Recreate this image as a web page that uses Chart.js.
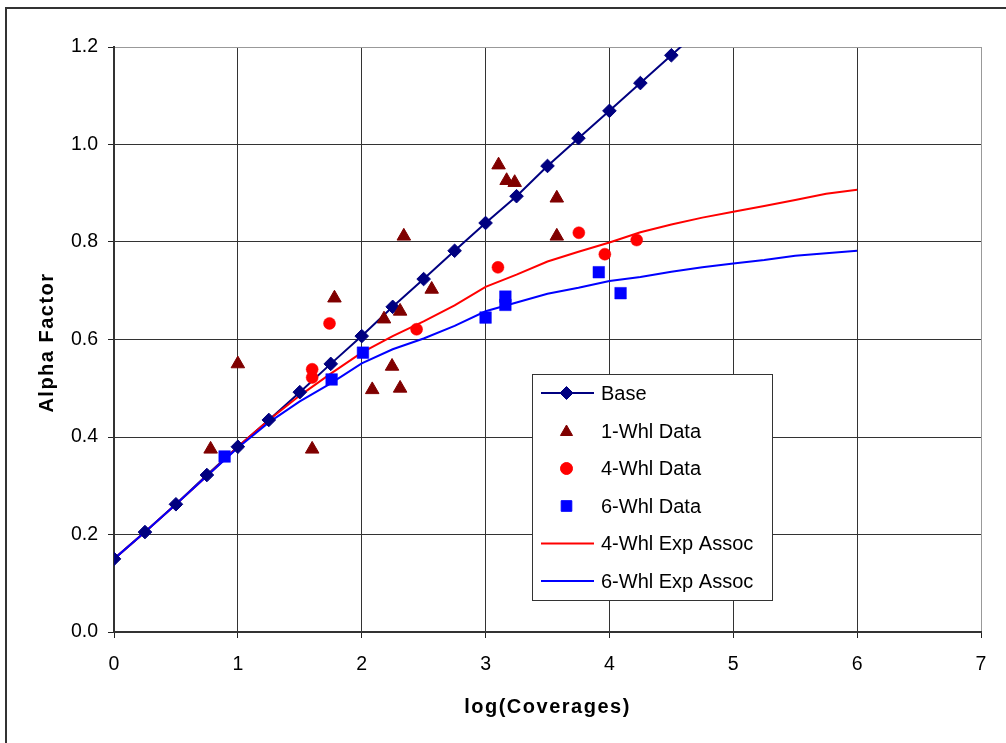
<!DOCTYPE html>
<html>
<head>
<meta charset="utf-8">
<title>Alpha Factor vs log(Coverages)</title>
<script src="https://cdn.jsdelivr.net/npm/chart.js@4/dist/chart.umd.min.js"></script>
<style>
  html, body { margin: 0; padding: 0; background: #fff; }
  #wrap { width: 1006px; height: 743px; }
</style>
</head>
<body>
<div id="wrap"><canvas id="c" width="1006" height="743"></canvas></div>
<script>
// Base relationship (diamonds, joined)
const baseX = [0, 0.25, 0.5, 0.75, 1, 1.25, 1.5, 1.75, 2, 2.25, 2.5, 2.75, 3, 3.25, 3.5, 3.75, 4, 4.25, 4.5, 4.75];
const baseY = [0.15, 0.205, 0.262, 0.322, 0.38, 0.435, 0.492, 0.55, 0.607, 0.667, 0.724, 0.782, 0.839, 0.894, 0.956, 1.013, 1.069, 1.126, 1.183, 1.24];

// Measured data points
const whl1X = [0.78, 1.0, 1.6, 1.78, 2.085, 2.18, 2.245, 2.31, 2.31, 2.34, 2.565, 3.105, 3.17, 3.235, 3.575, 3.575];
const whl1Y = [0.375, 0.55, 0.375, 0.685, 0.497, 0.642, 0.545, 0.658, 0.5, 0.812, 0.703, 0.958, 0.926, 0.922, 0.89, 0.812];

const whl4X = [1.6, 1.6, 1.74, 2.443, 3.1, 3.753, 3.963, 4.22];
const whl4Y = [0.539, 0.522, 0.633, 0.621, 0.748, 0.819, 0.775, 0.804];

const whl6X = [0.893, 1.757, 2.01, 3.0, 3.16, 3.16, 3.914, 4.09];
const whl6Y = [0.36, 0.518, 0.573, 0.645, 0.688, 0.671, 0.738, 0.695];

// Exponential association fits
const fitX = [0, 0.25, 0.5, 0.75, 1, 1.25, 1.5, 1.75, 2, 2.25, 2.5, 2.75, 3, 3.25, 3.5, 3.75, 4, 4.25, 4.5, 4.75, 5, 5.25, 5.5, 5.75, 6];
const fit4Y = [0.15, 0.205, 0.262, 0.32, 0.38, 0.435, 0.485, 0.53, 0.573, 0.607, 0.637, 0.67, 0.708, 0.733, 0.76, 0.78, 0.799, 0.82, 0.836, 0.85, 0.862, 0.874, 0.886, 0.899, 0.907];
const fit6Y = [0.15, 0.205, 0.262, 0.32, 0.378, 0.43, 0.473, 0.51, 0.551, 0.58, 0.602, 0.628, 0.658, 0.676, 0.694, 0.706, 0.72, 0.728, 0.739, 0.748, 0.756, 0.763, 0.772, 0.777, 0.782];

// Axis ticks
const xTicks = [0, 1, 2, 3, 4, 5, 6, 7];
const yTicks = [0.0, 0.2, 0.4, 0.6, 0.8, 1.0, 1.2];

const legendLabels = ['Base', '1-Whl Data', '4-Whl Data', '6-Whl Data', '4-Whl Exp Assoc', '6-Whl Exp Assoc'];

const pts = (xs, ys) => xs.map((x, i) => ({ x: x, y: ys[i] }));

const NAVY = '#000080', MAROON = '#800000', RED = '#ff0000', BLUE = '#0000ff';
const FONT = '"Liberation Sans", Arial, sans-serif';

const datasets = [
  { label: legendLabels[0], data: pts(baseX, baseY), showLine: true, borderColor: NAVY, borderWidth: 2,
    pointRadius: 0, order: 10 },
  { label: legendLabels[4], data: pts(fitX, fit4Y), showLine: true, borderColor: RED, borderWidth: 2,
    pointRadius: 0, order: 9 },
  { label: legendLabels[5], data: pts(fitX, fit6Y), showLine: true, borderColor: BLUE, borderWidth: 2,
    pointRadius: 0, order: 8 },
  { label: legendLabels[0] + ' markers', data: pts(baseX, baseY), showLine: false, pointStyle: 'rectRot',
    pointRadius: 6.8, backgroundColor: NAVY, borderColor: NAVY, borderWidth: 1, order: 4 },
  { label: legendLabels[1], data: pts(whl1X, whl1Y), showLine: false, pointStyle: 'triangle',
    pointRadius: 7.8, backgroundColor: MAROON, borderColor: MAROON, borderWidth: 1, order: 3 },
  { label: legendLabels[2], data: pts(whl4X, whl4Y), showLine: false, pointStyle: 'circle',
    pointRadius: 6, backgroundColor: RED, borderColor: RED, borderWidth: 0.5, order: 2 },
  { label: legendLabels[3], data: pts(whl6X, whl6Y), showLine: false, pointStyle: 'rect',
    pointRadius: 8.2, backgroundColor: BLUE, borderColor: BLUE, borderWidth: 0.5, order: 1 }
];

// Legend box, axis titles and outer frame
const decorations = {
  id: 'decorations',
  beforeDraw(chart) {
    const ctx = chart.ctx;
    ctx.save();
    ctx.fillStyle = '#fff';
    ctx.fillRect(0, 0, chart.width, chart.height);
    ctx.restore();
  },
  afterDraw(chart) {
    const ctx = chart.ctx;
    ctx.save();

    // outer frame
    ctx.strokeStyle = '#333';
    ctx.lineWidth = 2;
    ctx.beginPath();
    ctx.moveTo(6, 743);
    ctx.lineTo(6, 8);
    ctx.lineTo(1006, 8);
    ctx.stroke();

    // axis titles
    ctx.fillStyle = '#000';
    ctx.font = 'bold 20px ' + FONT;
    ctx.letterSpacing = '1.5px';
    ctx.textAlign = 'center';
    ctx.textBaseline = 'alphabetic';
    const ca = chart.chartArea;
    ctx.fillText('log(Coverages)', (ca.left + ca.right) / 2, 713);
    ctx.save();
    ctx.translate(53, (ca.top + ca.bottom) / 2 + 3);
    ctx.rotate(-Math.PI / 2);
    ctx.fillText('Alpha Factor', 0, 0);
    ctx.restore();
    ctx.letterSpacing = '0px';

    // legend
    const lx = 532.5, ly = 374.5, lw = 240, lh = 226;
    ctx.fillStyle = '#fff';
    ctx.fillRect(lx, ly, lw, lh);
    ctx.strokeStyle = '#333';
    ctx.lineWidth = 1;
    ctx.strokeRect(lx, ly, lw, lh);

    const rows = [393, 431, 468.5, 506, 543.5, 581];
    const symX = 566.5, lineL = 541, lineR = 594, textX = 601;
    ctx.font = '20px ' + FONT;
    ctx.textAlign = 'left';
    ctx.textBaseline = 'middle';
    const drawMarker = (style, r, y) => {
      Chart.helpers.drawPoint(ctx, { pointStyle: style, radius: r, rotation: 0, borderWidth: 1 }, symX, y);
    };
    // Base
    ctx.strokeStyle = NAVY; ctx.lineWidth = 2;
    ctx.beginPath(); ctx.moveTo(lineL, rows[0]); ctx.lineTo(lineR, rows[0]); ctx.stroke();
    ctx.fillStyle = NAVY; ctx.strokeStyle = NAVY; ctx.lineWidth = 1;
    drawMarker('rectRot', 6.5, rows[0]);
    // data markers
    ctx.fillStyle = MAROON; ctx.strokeStyle = MAROON;
    drawMarker('triangle', 7, rows[1] + 1);
    ctx.fillStyle = RED; ctx.strokeStyle = RED;
    drawMarker('circle', 6, rows[2]);
    ctx.fillStyle = BLUE; ctx.strokeStyle = BLUE;
    drawMarker('rect', 7.5, rows[3]);
    // fit lines
    ctx.lineWidth = 2;
    ctx.strokeStyle = RED;
    ctx.beginPath(); ctx.moveTo(lineL, rows[4]); ctx.lineTo(lineR, rows[4]); ctx.stroke();
    ctx.strokeStyle = BLUE;
    ctx.beginPath(); ctx.moveTo(lineL, rows[5]); ctx.lineTo(lineR, rows[5]); ctx.stroke();

    ctx.fillStyle = '#000';
    legendLabels.forEach((t, i) => ctx.fillText(t, textX, rows[i] + 1));
    ctx.restore();
  }
};

new Chart(document.getElementById('c'), {
  type: 'scatter',
  data: { datasets: datasets },
  options: {
    responsive: false,
    animation: false,
    devicePixelRatio: 1,
    layout: { padding: { top: 47, right: 25, left: 0, bottom: 0 } },
    plugins: { legend: { display: false }, tooltip: { enabled: false }, title: { display: false } },
    elements: { line: { tension: 0 } },
    scales: {
      x: {
        type: 'linear', min: xTicks[0], max: xTicks[xTicks.length - 1],
        afterFit: s => { s.height = 111; },
        afterBuildTicks: s => { s.ticks = xTicks.map(v => ({ value: v })); },
        ticks: { color: '#000', font: { family: FONT, size: 19.5 }, padding: 15,
                 callback: v => String(v) },
        grid: { color: ctx => (ctx.tick && ctx.tick.value === 7) ? '#999' : '#333',
                tickColor: '#222', tickLength: 6, lineWidth: 1 },
        border: { color: '#333', width: 2 }
      },
      y: {
        type: 'linear', min: yTicks[0], max: yTicks[yTicks.length - 1],
        afterFit: s => { s.width = 114; },
        afterBuildTicks: s => { s.ticks = yTicks.map(v => ({ value: v })); },
        ticks: { color: '#000', font: { family: FONT, size: 19.5 }, padding: 10,
                 callback: v => Number(v).toFixed(1) },
        grid: { color: ctx => (ctx.tick && Math.abs(ctx.tick.value - 1.2) < 1e-9) ? '#999' : '#333',
                tickColor: '#222', tickLength: 6, lineWidth: 1 },
        border: { color: '#333', width: 2 }
      }
    }
  },
  plugins: [decorations]
});
</script>
</body>
</html>
